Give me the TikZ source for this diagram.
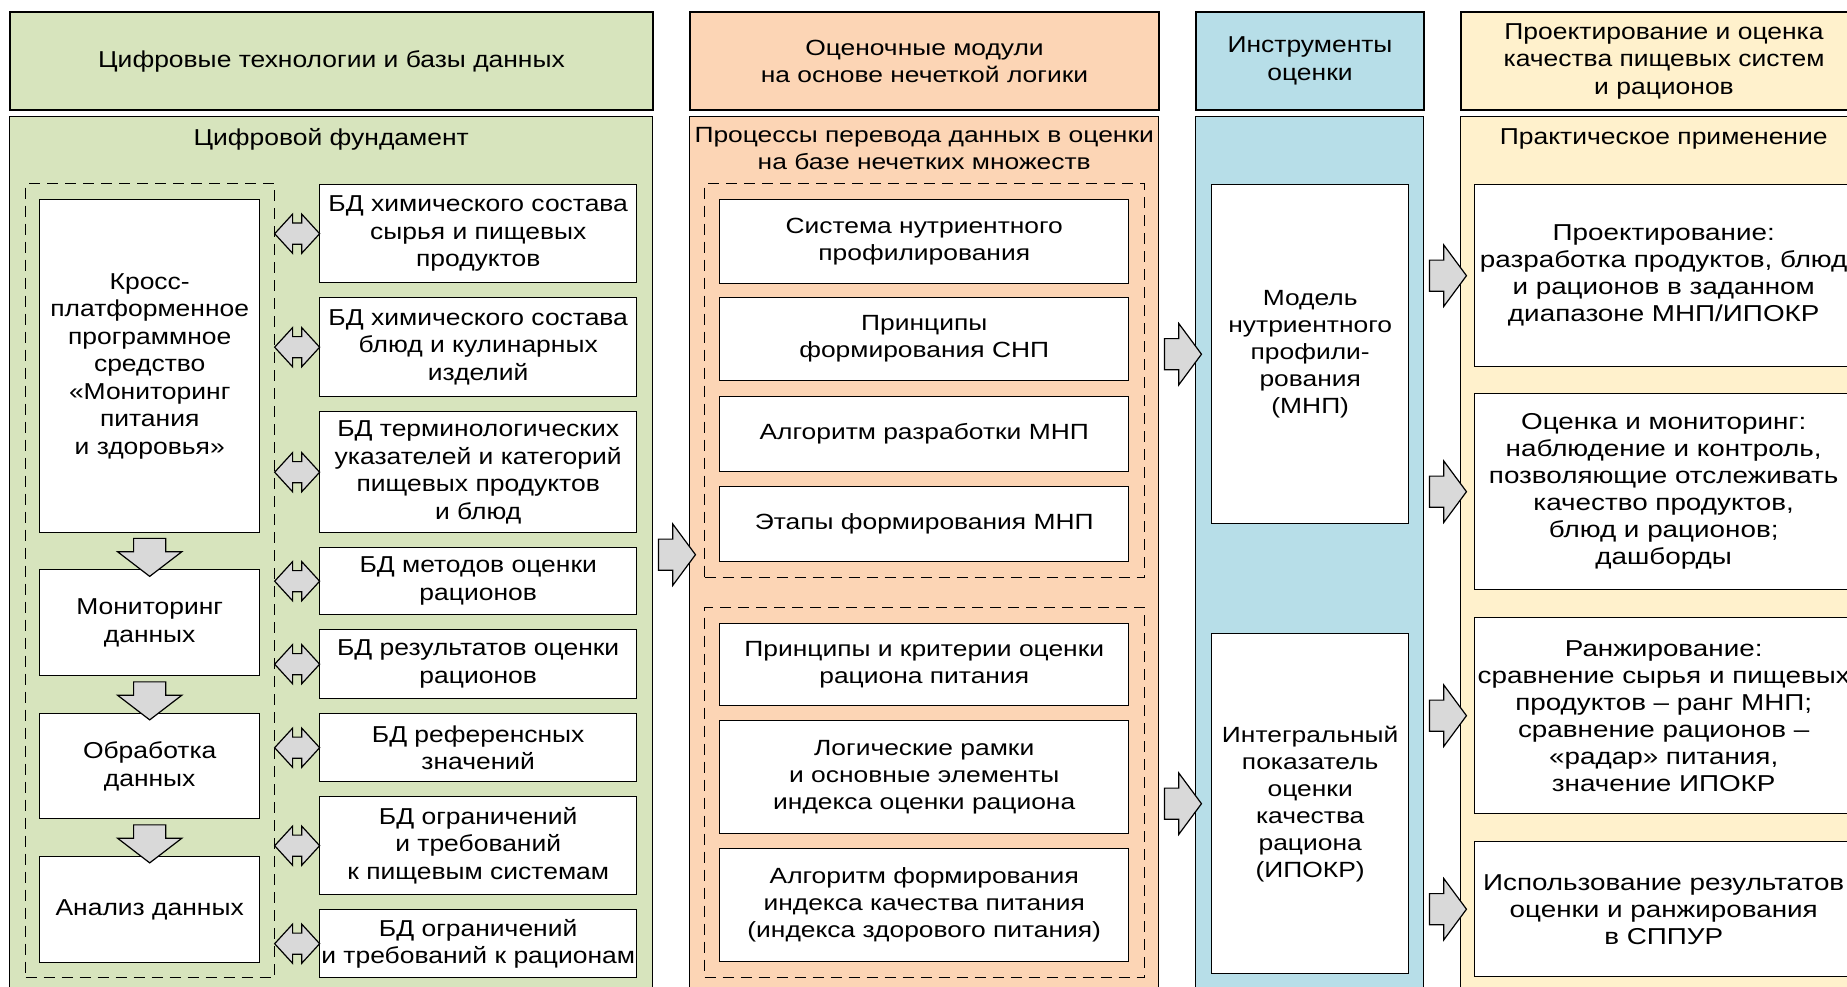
\documentclass[tikz,border=0pt]{standalone}
\usepackage{fontspec}
\setmainfont{Liberation Sans}
\newfontfamily\greenFont[FakeStretch=1.15]{Liberation Sans}
\newfontfamily\yellowFont[FakeStretch=1.21]{Liberation Sans}
\newfontfamily\wideFont[FakeStretch=1.2]{Liberation Sans}
\usetikzlibrary{shapes.arrows,calc,positioning}
\definecolor{greenbg}{RGB}{215,228,189}
\definecolor{orangebg}{RGB}{252,213,181}
\definecolor{bluebg}{RGB}{183,222,232}
\definecolor{yellowbg}{RGB}{255,241,204}
\definecolor{arrowgray}{RGB}{217,217,217}

\begin{document}
\begin{tikzpicture}[x=1pt,y=-1pt,
	head/.style={draw,line width=2pt,inner sep=0pt,align=center,anchor=north west},
	panel/.style={draw,line width=1.4pt,inner sep=0pt,anchor=north west},
	box/.style={draw,fill=white,line width=1.4pt,inner sep=0pt,align=center,anchor=north west},
	dashbox/.style={draw,dashed,dash pattern=on 11pt off 7pt,line width=1.3pt,inner sep=0pt,anchor=north west},
	gtext/.style={font=\greenFont\fontsize{23}{27.5}\selectfont},
	ytext/.style={font=\yellowFont\fontsize{23}{27}\selectfont},
	otext/.style={font=\wideFont\fontsize{22}{27}\selectfont},
	rarr/.style={single arrow,draw,fill=arrowgray,line width=1.2pt,inner xsep=0pt,inner ysep=15pt,minimum height=37pt,single arrow head extend=15pt,single arrow tip angle=107},
	varr/.style={single arrow,draw,fill=arrowgray,line width=1.2pt,inner xsep=0pt,inner ysep=15.5pt,minimum height=38pt,single arrow head extend=16pt,single arrow tip angle=105,rotate=-90},
	darr/.style={double arrow,draw,fill=arrowgray,line width=1.2pt,inner xsep=0pt,inner ysep=10pt,minimum height=45pt,double arrow head extend=9pt,double arrow tip angle=95}]
	\useasboundingbox (0,0) rectangle (1847,987);

	\node[head,fill=greenbg,minimum width=643pt,minimum height=98pt,gtext] (hg) at (9,11) {Цифровые технологии и базы данных};
	\node[head,fill=orangebg,minimum width=469pt,minimum height=98pt,otext] (ho) at (689,11) {Оценочные модули\\на основе нечеткой логики};
	\node[head,fill=bluebg,minimum width=228pt,minimum height=98pt,gtext] (hb) at (1195,11) {Инструменты\\оценки};
	\node[head,fill=yellowbg,minimum width=406pt,minimum height=98pt,gtext] (hy) at (1460,11) {Проектирование и оценка\\качества пищевых систем\\и рационов};

	\node[panel,fill=greenbg,minimum width=643pt,minimum height=876pt] (pg) at (9,116) {};
	\node[panel,fill=orangebg,minimum width=469pt,minimum height=876pt] (po) at (689,116) {};
	\node[panel,fill=bluebg,minimum width=228pt,minimum height=876pt] (pb) at (1195,116) {};
	\node[panel,fill=yellowbg,minimum width=406pt,minimum height=876pt] (py) at (1460,116) {};

	\node[gtext,below=9pt of pg.north] {Цифровой фундамент};
	\node[otext,align=center,below=8pt of po.north] {Процессы перевода данных в оценки\\на базе нечетких множеств};
	\node[gtext,below=9pt of py.north] {Практическое применение};

	\node[dashbox,minimum width=249pt,minimum height=794pt] (gdash) at (25,183) {};
	\node[box,gtext,minimum width=220pt,minimum height=333pt] (cross) at (39,199) {Кросс-\\платформенное\\программное\\средство\\«Мониторинг\\питания\\и здоровья»};
	\node[box,gtext,minimum width=220pt,minimum height=106pt] (mon) at (39,569) {Мониторинг\\данных};
	\node[box,gtext,minimum width=220pt,minimum height=105pt] (obr) at (39,713) {Обработка\\данных};
	\node[box,gtext,minimum width=220pt,minimum height=106pt] (an) at (39,856) {Анализ данных};

	\node[box,gtext,minimum width=317pt,minimum height=98pt] (db1) at (319,184) {БД химического состава\\сырья и пищевых\\продуктов};
	\node[box,gtext,minimum width=317pt,minimum height=99pt] (db2) at (319,297) {БД химического состава\\блюд и кулинарных\\изделий};
	\node[box,gtext,minimum width=317pt,minimum height=121pt] (db3) at (319,411) {БД терминологических\\указателей и категорий\\пищевых продуктов\\и блюд};
	\node[box,gtext,minimum width=317pt,minimum height=67pt] (db4) at (319,547) {БД методов оценки\\рационов};
	\node[box,gtext,minimum width=317pt,minimum height=69pt] (db5) at (319,629) {БД результатов оценки\\рационов};
	\node[box,gtext,minimum width=317pt,minimum height=68pt] (db6) at (319,713) {БД референсных\\значений};
	\node[box,gtext,minimum width=317pt,minimum height=98pt] (db7) at (319,796) {БД ограничений\\и требований\\к пищевым системам};
	\node[box,gtext,minimum width=317pt,minimum height=68pt] (db8) at (319,909) {БД ограничений\\и требований к рационам};

	\foreach \d in {db1,db2,db3,db4,db5,db6,db7,db8}
		\node[darr] at ($(gdash.east |- \d.west)!0.5!(\d.west)$) {};
	\node[varr] at ($(cross.south)!0.5!(mon.north)$) {};
	\node[varr] at ($(mon.south)!0.5!(obr.north)$) {};
	\node[varr] at ($(obr.south)!0.5!(an.north)$) {};
	\node[rarr] at ($(pg.east)!0.5!(po.west)$) {};

	\node[dashbox,minimum width=440pt,minimum height=394pt] (odash1) at (704,183) {};
	\node[box,otext,minimum width=409pt,minimum height=84pt] (ob1) at (719,199) {Система нутриентного\\профилирования};
	\node[box,otext,minimum width=409pt,minimum height=83pt] (ob2) at (719,297) {Принципы\\формирования СНП};
	\node[box,otext,minimum width=409pt,minimum height=75pt] (ob3) at (719,396) {Алгоритм разработки МНП};
	\node[box,otext,minimum width=409pt,minimum height=75pt] (ob4) at (719,486) {Этапы формирования МНП};
	\node[dashbox,minimum width=440pt,minimum height=370pt] (odash2) at (704,607) {};
	\node[box,otext,minimum width=409pt,minimum height=82pt] (ob5) at (719,623) {Принципы и критерии оценки\\рациона питания};
	\node[box,otext,minimum width=409pt,minimum height=113pt] (ob6) at (719,720) {Логические рамки\\и основные элементы\\индекса оценки рациона};
	\node[box,otext,minimum width=409pt,minimum height=113pt] (ob7) at (719,848) {Алгоритм формирования\\индекса качества питания\\(индекса здорового питания)};

	\node[box,otext,minimum width=197pt,minimum height=339pt] (bb1) at (1211,184) {Модель\\нутриентного\\профили-\\рования\\(МНП)};
	\node[box,otext,minimum width=197pt,minimum height=340pt] (bb2) at (1211,633) {Интегральный\\показатель\\оценки\\качества\\рациона\\(ИПОКР)};
	\node[rarr] at ($(po.east |- bb1)!0.5!(pb.west |- bb1)$) {};
	\node[rarr] at ($(po.east |- bb2)!0.5!(pb.west |- bb2)$) {};

	\node[box,ytext,minimum width=378pt,minimum height=182pt] (yb1) at (1474,184) {Проектирование:\\разработка продуктов, блюд\\и рационов в заданном\\диапазоне МНП/ИПОКР};
	\node[box,ytext,minimum width=378pt,minimum height=196pt] (yb2) at (1474,393) {Оценка и мониторинг:\\наблюдение и контроль,\\позволяющие отслеживать\\качество продуктов,\\блюд и рационов;\\дашборды};
	\node[box,ytext,minimum width=378pt,minimum height=196pt] (yb3) at (1474,617) {Ранжирование:\\сравнение сырья и пищевых\\продуктов – ранг МНП;\\сравнение рационов –\\«радар» питания,\\значение ИПОКР};
	\node[box,ytext,minimum width=378pt,minimum height=135pt] (yb4) at (1474,841) {Использование результатов\\оценки и ранжирования\\в СППУР};
	\foreach \y in {yb1,yb2,yb3,yb4}
		\node[rarr] at ($(pb.east |- \y.west)!0.5!(py.west |- \y.west)$) {};
\end{tikzpicture}
\end{document}
